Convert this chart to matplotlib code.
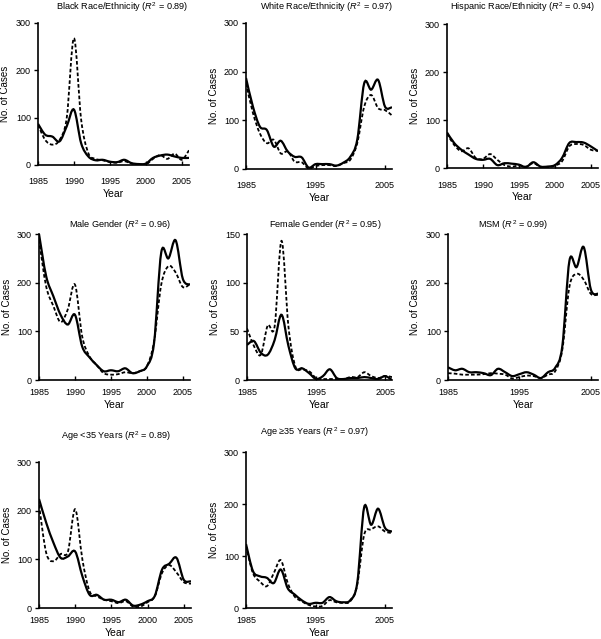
import numpy as np
import matplotlib
matplotlib.use('Agg')
import matplotlib.pyplot as plt
from matplotlib.path import Path
from matplotlib.patches import PathPatch

plt.rcParams['font.family'] = ['Liberation Sans', 'DejaVu Sans']
plt.rcParams['mathtext.fontset'] = 'custom'
plt.rcParams['mathtext.rm'] = 'Liberation Sans'
plt.rcParams['mathtext.it'] = 'Liberation Sans:italic'

years = list(range(1985, 2007))

# observed (solid) and model (dashed) cases per year
black_obs = [87, 64, 60, 50, 82, 117, 46, 18, 10, 11, 7, 6, 11, 4, 2, 3, 15, 20, 22, 18, 15, 15]
black_fit = [85, 53, 43, 53, 100, 268, 96, 25, 13, 10, 6, 5, 8, 3, 1, 1, 13, 21, 13, 24, 11, 31]
white_obs = [187, 128, 87, 80, 46, 58, 36, 25, 24, 3, 10, 10, 10, 7, 13, 25, 60, 176, 163, 183, 128, 127]
white_fit = [176, 115, 73, 53, 60, 32, 36, 15, 14, 1, 6, 8, 8, 6, 12, 19, 53, 128, 152, 125, 121, 110]
hisp_obs = [74, 52, 38, 28, 19, 17, 19, 6, 10, 9, 7, 2, 12, 3, 3, 6, 21, 52, 54, 53, 45, 35]
hisp_fit = [72, 48, 35, 41, 21, 19, 29, 17, 6, 3, 5, 3, 10, 2, 2, 5, 14, 45, 50, 48, 38, 36]
male_obs = [300, 213, 172, 134, 114, 134, 69, 47, 31, 18, 20, 18, 24, 14, 18, 28, 76, 262, 250, 287, 208, 196]
male_fit = [288, 192, 152, 119, 145, 196, 90, 49, 31, 14, 11, 12, 16, 14, 18, 28, 79, 196, 234, 221, 191, 197]
female_obs = [36, 40, 28, 26, 41, 67, 35, 12, 12, 7, 1, 4, 11, 2, 1, 2, 2, 3, 2, 1, 4, 0]
female_fit = [53, 35, 26, 56, 55, 143, 55, 14, 11, 9, 2, 1, 1, 1, 1, 3, 3, 8, 4, 2, 4, 3]
msm_obs = [26, 20, 23, 16, 16, 14, 10, 23, 16, 8, 12, 16, 11, 4, 16, 25, 69, 245, 232, 273, 186, 177]
msm_fit = [14, 13, 11, 11, 11, 12, 14, 13, 11, 3, 6, 9, 8, 4, 11, 18, 62, 192, 218, 206, 177, 175]
young_obs = [224, 175, 134, 103, 106, 116, 65, 27, 27, 17, 17, 12, 17, 5, 7, 14, 25, 79, 91, 103, 58, 55]
young_fit = [212, 113, 96, 111, 116, 203, 99, 34, 24, 17, 14, 10, 14, 3, 3, 12, 24, 72, 88, 73, 53, 50]
old_obs = [123, 71, 61, 58, 48, 74, 38, 26, 15, 8, 10, 10, 21, 13, 11, 15, 48, 194, 160, 191, 154, 147]
old_fit = [119, 67, 51, 42, 67, 92, 48, 22, 13, 6, 3, 4, 15, 11, 10, 13, 45, 141, 151, 157, 147, 144]

titles = ['Black Race/Ethnicity ($R^2$ = 0.89)', 'White Race/Ethnicity ($R^2$ = 0.97)',
          'Hispanic Race/Ethnicity ($R^2$ = 0.94)', 'Male Gender ($R^2$ = 0.96)',
          'Female Gender ($R^2$ = 0.95)', 'MSM ($R^2$ = 0.99)',
          'Age <35 Years ($R^2$ = 0.89)', 'Age \u226535 Years ($R^2$ = 0.97)']
observed = [black_obs, white_obs, hisp_obs, male_obs, female_obs, msm_obs, young_obs, old_obs]
fitted = [black_fit, white_fit, hisp_fit, male_fit, female_fit, msm_fit, young_fit, old_fit]
ymax = [300, 300, 300, 300, 150, 300, 300, 300]

# axes boxes in pixels: left, top, right, bottom ; title x,y in pixels
boxes = [(38, 23, 189, 165), (246, 23, 392, 169), (447, 24, 598, 168),
         (39, 234, 190, 380), (247, 234, 392, 380), (448, 234, 598, 380),
         (39, 462, 191, 608), (246, 452, 392, 608)]
title_pos = [(122, 7), (327, 7), (522, 7), (120, 225), (325, 225), (513, 225),
             (116, 436), (315, 432)]
tick_pad = [9, 9, 9, 6, 6, 6, 6, 6]
every5 = [True, False, True, True, False, False, True, False]

W, H = 601, 639


def smooth_path(x, y):
    # Excel-style smoothed line: cubic bezier through the data points
    p = np.column_stack([x, y]).astype(float)
    n = len(p)
    verts = [p[0]]
    codes = [Path.MOVETO]
    for i in range(n - 1):
        p0 = p[max(i - 1, 0)]
        p1 = p[i]
        p2 = p[i + 1]
        p3 = p[min(i + 2, n - 1)]
        verts += [p1 + (p2 - p0) / 6, p2 - (p3 - p1) / 6, p2]
        codes += [Path.CURVE4] * 3
    return Path(verts, codes)


fig = plt.figure(figsize=(W / 100, H / 100), dpi=100)

for i in range(8):
    l, t, r, b = boxes[i]
    ax = fig.add_axes([l / W, 1 - b / H, (r - l) / W, (b - t) / H])
    ax.add_patch(PathPatch(smooth_path(years, observed[i]), fill=False,
                           color='black', lw=1.6))
    ax.add_patch(PathPatch(smooth_path(years, fitted[i]), fill=False,
                           color='black', lw=1.3, linestyle=(0, (2, 1.2))))
    ax.set_xlim(1985, 2006)
    ax.set_ylim(0, ymax[i])
    if every5[i]:
        ax.set_xticks([1985, 1990, 1995, 2000, 2005])
    else:
        ax.set_xticks([1985, 1995, 2005])
    ax.set_yticks(np.linspace(0, ymax[i], 4))
    ax.spines['top'].set_visible(False)
    ax.spines['right'].set_visible(False)
    ax.spines['left'].set_linewidth(1.2)
    ax.spines['bottom'].set_linewidth(1.2)
    ax.tick_params(axis='x', direction='in', length=3, width=1, pad=tick_pad[i], labelsize=6.5)
    ax.tick_params(axis='y', direction='out', length=3, width=1, pad=2, labelsize=6.5)
    ax.set_xlabel('Year', fontsize=7.5, labelpad=2)
    ax.set_ylabel('No. of Cases', fontsize=7, labelpad=4)
    tx, ty = title_pos[i]
    fig.text(tx / W, 1 - ty / H, titles[i], fontsize=6.6, ha='center', va='center')

fig.savefig('out.png', dpi=100)
